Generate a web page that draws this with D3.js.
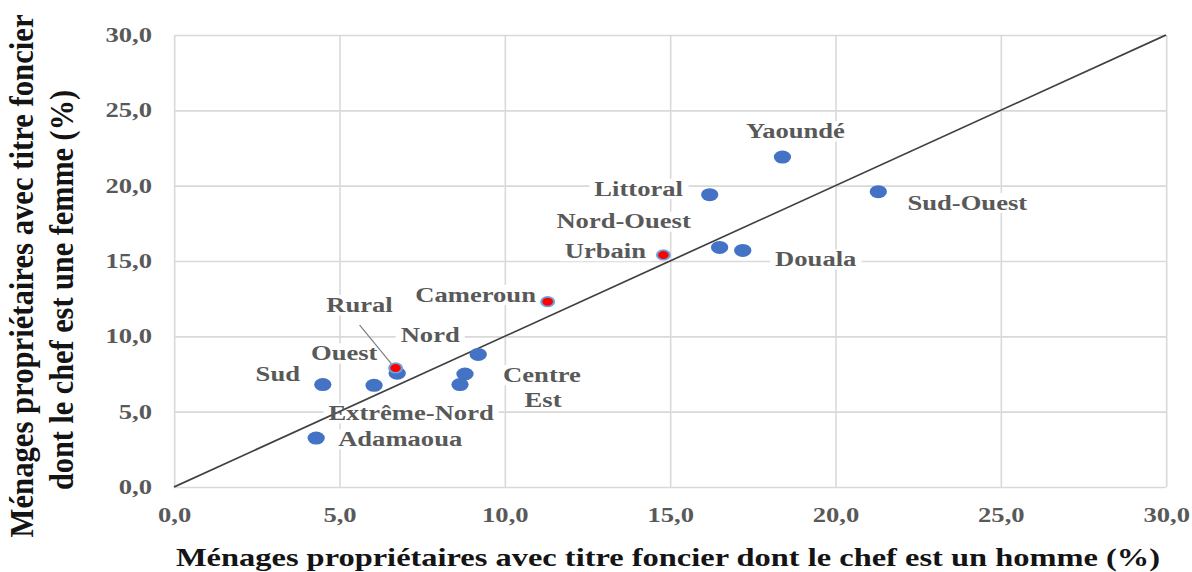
<!DOCTYPE html>
<html>
<head>
<meta charset="utf-8">
<script src="https://cdn.jsdelivr.net/npm/d3@7"></script>
<style>
  body { margin: 0; background: #fff; }
  svg { display: block; }
  text { font-family: "Liberation Serif", "Times New Roman", serif; font-weight: bold; }
</style>
</head>
<body>
<svg></svg>
<script>
// data
const regions = ["Yaoundé", "Littoral", "Sud-Ouest", "Nord-Ouest", "Douala", "Urbain", "Cameroun", "Rural",
                 "Nord", "Ouest", "Sud", "Centre", "Est", "Extrême-Nord", "Adamaoua"];
const homme = [18.4, 16.2, 21.3, 16.5, 17.2, 14.8, 11.3, 6.7, 9.2, 6.75, 4.5, 8.8, 8.65, 6.05, 4.3];
const femme = [21.9, 19.4, 19.6, 15.9, 15.7, 15.4, 12.3, 7.9, 8.8, 7.55, 6.8, 7.5, 6.8, 6.75, 3.25];
const aggregates = ["Urbain", "Cameroun", "Rural"];
const xTicks = [0, 5, 10, 15, 20, 25, 30];
const yTicks = [0, 5, 10, 15, 20, 25, 30];
const xTickLabels = ["0,0", "5,0", "10,0", "15,0", "20,0", "25,0", "30,0"];
const yTickLabels = ["0,0", "5,0", "10,0", "15,0", "20,0", "25,0", "30,0"];
const xTitle = "Ménages propriétaires avec titre foncier dont le chef est un homme (%)";
const yTitle = ["Ménages propriétaires avec titre foncier", "dont le chef est une femme (%)"];

// label placement, screen px relative to the dot (text centre / baseline)
const labelOffsets = {
    "Yaoundé": [13, -19], "Littoral": [-71, 1], "Sud-Ouest": [89, 18], "Nord-Ouest": [-96, -19],
    "Douala": [73, 16], "Urbain": [-58, 3], "Cameroun": [-72, 0], "Rural": [-36, -56],
    "Nord": [-48, -12], "Ouest": [-53, -13], "Sud": [-45, -4], "Centre": [77, 8],
    "Est": [83, 22], "Extrême-Nord": [37, 35], "Adamaoua": [84, 8]
};

// the picture is stretched horizontally, so draw in a narrower space and scale x
const SX = 1.33;
const W = 1192, H = 572;

const svg = d3.select("svg").attr("width", W).attr("height", H);
const g = svg.append("g").attr("transform", `scale(${SX},1)`);

const x = d3.scaleLinear().domain([0, 30]).range([174 / SX, 1166 / SX]);
const y = d3.scaleLinear().domain([0, 30]).range([487, 35]);

const data = regions.map((r, i) => ({ name: r, h: homme[i], f: femme[i], agg: aggregates.includes(r) }));

// gridlines
g.append("g")
    .attr("transform", `translate(0,${y(0)})`)
    .call(d3.axisBottom(x).tickValues(xTicks).tickSize(-(y(0) - y(30))).tickFormat(""))
    .call(a => a.select(".domain").remove())
    .selectAll("line").attr("stroke", "#d9d9d9").attr("stroke-width", 1.2);
g.append("g")
    .attr("transform", `translate(${x(0)},0)`)
    .call(d3.axisLeft(y).tickValues(yTicks).tickSize(-(x(30) - x(0))).tickFormat(""))
    .call(a => a.select(".domain").remove())
    .selectAll("line").attr("stroke", "#d9d9d9").attr("stroke-width", 1.6);

// tick labels
g.append("g")
    .attr("transform", `translate(0,${y(0)})`)
    .call(d3.axisBottom(x).tickValues(xTicks).tickSize(0).tickPadding(21).tickFormat((d, i) => xTickLabels[i]))
    .call(a => a.select(".domain").remove())
    .selectAll("text").attr("font-size", 20).attr("fill", "#595959")
    .style("font-family", "'Liberation Serif', serif").style("font-weight", "bold");
g.append("g")
    .attr("transform", `translate(${x(0)},0)`)
    .call(d3.axisLeft(y).tickValues(yTicks).tickSize(0).tickPadding(22 / SX).tickFormat((d, i) => yTickLabels[i]))
    .call(a => a.select(".domain").remove())
    .selectAll("text").attr("font-size", 20).attr("fill", "#595959")
    .style("font-family", "'Liberation Serif', serif").style("font-weight", "bold");

// label boxes and labels
const boxLayer = g.append("g");
const lineLayer = g.append("g");
const dotLayer = g.append("g");
const labelLayer = g.append("g");

const labels = labelLayer.selectAll("text")
    .data(data)
    .enter().append("text")
    .attr("x", d => x(d.h) + labelOffsets[d.name][0] / SX)
    .attr("y", d => y(d.f) + labelOffsets[d.name][1])
    .attr("text-anchor", "middle")
    .attr("font-size", 20)
    .attr("fill", "#595959")
    .text(d => d.name);

labels.each(function () {
    const b = this.getBBox();
    boxLayer.append("rect")
        .attr("x", b.x - 5 / SX).attr("y", b.y + 1)
        .attr("width", b.width + 10 / SX).attr("height", b.height - 2)
        .attr("fill", "#fff");
});

// leader for Rural
const rural = data.find(d => d.name === "Rural");
lineLayer.append("line")
    .attr("x1", x(rural.h) + labelOffsets.Rural[0] / SX)
    .attr("y1", y(rural.f) + labelOffsets.Rural[1] + 13)
    .attr("x2", x(rural.h) - 4 / SX)
    .attr("y2", y(rural.f) - 4)
    .attr("stroke", "#7f7f7f").attr("stroke-width", 1);

// diagonal
lineLayer.append("line")
    .attr("x1", x(0)).attr("y1", y(0))
    .attr("x2", x(30)).attr("y2", y(30))
    .attr("stroke", "#404040").attr("stroke-width", 1.6);

// dots
dotLayer.selectAll("circle.reg")
    .data(data.filter(d => !d.agg))
    .enter().append("circle")
    .attr("class", "reg")
    .attr("cx", d => x(d.h)).attr("cy", d => y(d.f))
    .attr("r", 6.5)
    .attr("fill", "#4472c4");
dotLayer.selectAll("circle.agg")
    .data(data.filter(d => d.agg))
    .enter().append("circle")
    .attr("class", "agg")
    .attr("cx", d => x(d.h)).attr("cy", d => y(d.f))
    .attr("r", 4.8)
    .attr("fill", "#ff0000")
    .attr("stroke", "#6fa3e0").attr("stroke-width", 1.6);

// axis titles
g.append("text")
    .attr("x", 176 / SX).attr("y", 566)
    .attr("font-size", 25).attr("fill", "#141414")
    .attr("textLength", 984 / SX).attr("lengthAdjust", "spacingAndGlyphs")
    .text(xTitle);

const yCenters = [[33 / SX, 276, 523], [73 / SX, 290, 400]];
yTitle.forEach((t, i) => {
    g.append("text")
        .attr("transform", `translate(${yCenters[i][0]},${yCenters[i][1]}) rotate(-90)`)
        .attr("text-anchor", "middle")
        .attr("font-size", 25).attr("fill", "#141414")
        .attr("textLength", yCenters[i][2]).attr("lengthAdjust", "spacingAndGlyphs")
        .text(t);
});
</script>
</body>
</html>
